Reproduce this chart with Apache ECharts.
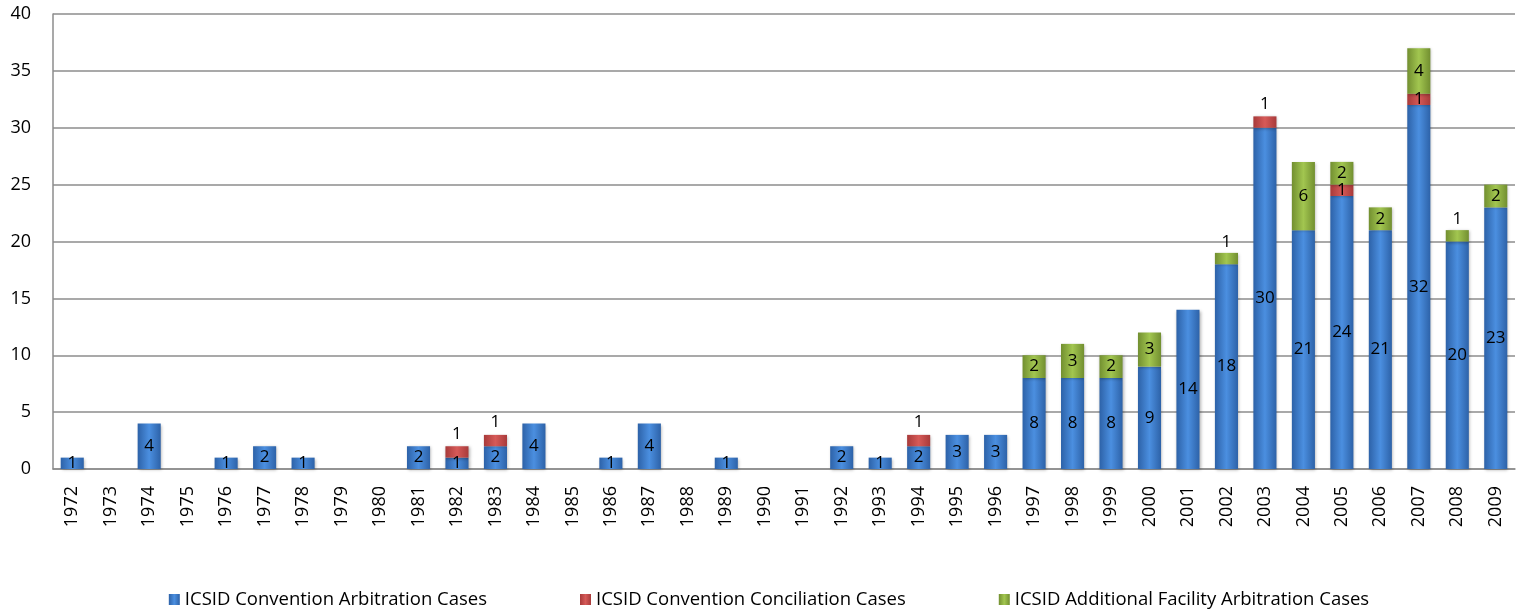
<!DOCTYPE html>
<html>
<head>
<meta charset="utf-8">
<script src="https://cdn.jsdelivr.net/npm/echarts@6/dist/echarts.min.js"></script>
<style>html,body{margin:0;padding:0;background:#fff;}#c{width:1538px;height:615px;}</style>
</head>
<body>
<div id="c"></div>
<script>
const years = ['1972','1973','1974','1975','1976','1977','1978','1979','1980','1981','1982','1983','1984','1985','1986','1987','1988','1989','1990','1991','1992','1993','1994','1995','1996','1997','1998','1999','2000','2001','2002','2003','2004','2005','2006','2007','2008','2009'];
const arbitration = [1,null,4,null,1,2,1,null,null,2,1,2,4,null,1,4,null,1,null,null,2,1,2,3,3,8,8,8,9,14,18,30,21,24,21,32,20,23];
const conciliation = [null,null,null,null,null,null,null,null,null,null,1,1,null,null,null,null,null,null,null,null,null,null,1,null,null,null,null,null,null,null,null,1,null,1,null,1,null,null];
const additional = [null,null,null,null,null,null,null,null,null,null,null,null,null,null,null,null,null,null,null,null,null,null,null,null,null,2,3,2,3,null,1,null,6,2,2,4,1,2];
const seriesNames = ['ICSID Convention Arbitration Cases','ICSID Convention Conciliation Cases','ICSID Additional Facility Arbitration Cases'];
const yTicks = [0,5,10,15,20,25,30,35,40];

function grad(edge, mid){
  return new echarts.graphic.LinearGradient(0,0,1,0,[
    {offset:0,color:edge},{offset:0.5,color:mid},{offset:1,color:edge}]);
}
const blueC = grad('#2d62a8','#4b8fe0');
const redC = grad('#a83a3a','#d65a58');
const greenC = grad('#728f30','#a2c650');
const font = 'Open Sans';
const lbl = {show:true,color:'#000',fontSize:17,fontFamily:font};

const redData = conciliation.map((v,i)=>{
  if(v==null) return null;
  const covered = additional[i]!=null;
  return {value:v,label:{position: covered ? 'inside' : 'top', distance: 4}};
});
const greenData = additional.map((v)=>{
  if(v==null) return null;
  return {value:v,label:{position: v===1 ? 'top' : 'inside', distance: 2}};
});
const shadow = {shadowColor:'rgba(0,0,0,0.3)',shadowBlur:3,shadowOffsetX:1,shadowOffsetY:1};

const chart = echarts.init(document.getElementById('c'));
chart.setOption({
  animation:false,
  grid:{left:53,right:23,top:14,bottom:146},
  legend:{
    bottom:1,left:'center',itemGap:93,itemWidth:11,itemHeight:11,
    icon:'rect',
    textStyle:{fontFamily:font,fontSize:18.5,color:'#000'},
    data:seriesNames
  },
  xAxis:{
    type:'category',data:years,
    axisLine:{lineStyle:{color:'#8c8c8c',width:1.5}},
    axisTick:{show:false},
    axisLabel:{rotate:90,interval:0,fontFamily:font,fontSize:18,color:'#000',margin:17}
  },
  yAxis:{
    type:'value',min:yTicks[0],max:yTicks[yTicks.length-1],interval:5,
    axisLine:{show:true,lineStyle:{color:'#8c8c8c',width:1.5}},
    axisTick:{show:false},
    axisLabel:{fontFamily:font,fontSize:18,color:'#000',margin:22},
    splitLine:{lineStyle:{color:'#8c8c8c',width:1.5}}
  },
  series:[
    {name:seriesNames[0],type:'bar',stack:'a',data:arbitration,barWidth:'60%',
     itemStyle:Object.assign({color:blueC},shadow),
     label:Object.assign({position:'inside'},lbl)},
    {name:seriesNames[1],type:'bar',stack:'a',data:redData,
     itemStyle:Object.assign({color:redC},shadow),
     label:lbl},
    {name:seriesNames[2],type:'bar',stack:'a',data:greenData,
     itemStyle:Object.assign({color:greenC},shadow),
     label:lbl}
  ]
});
</script>
</body>
</html>
